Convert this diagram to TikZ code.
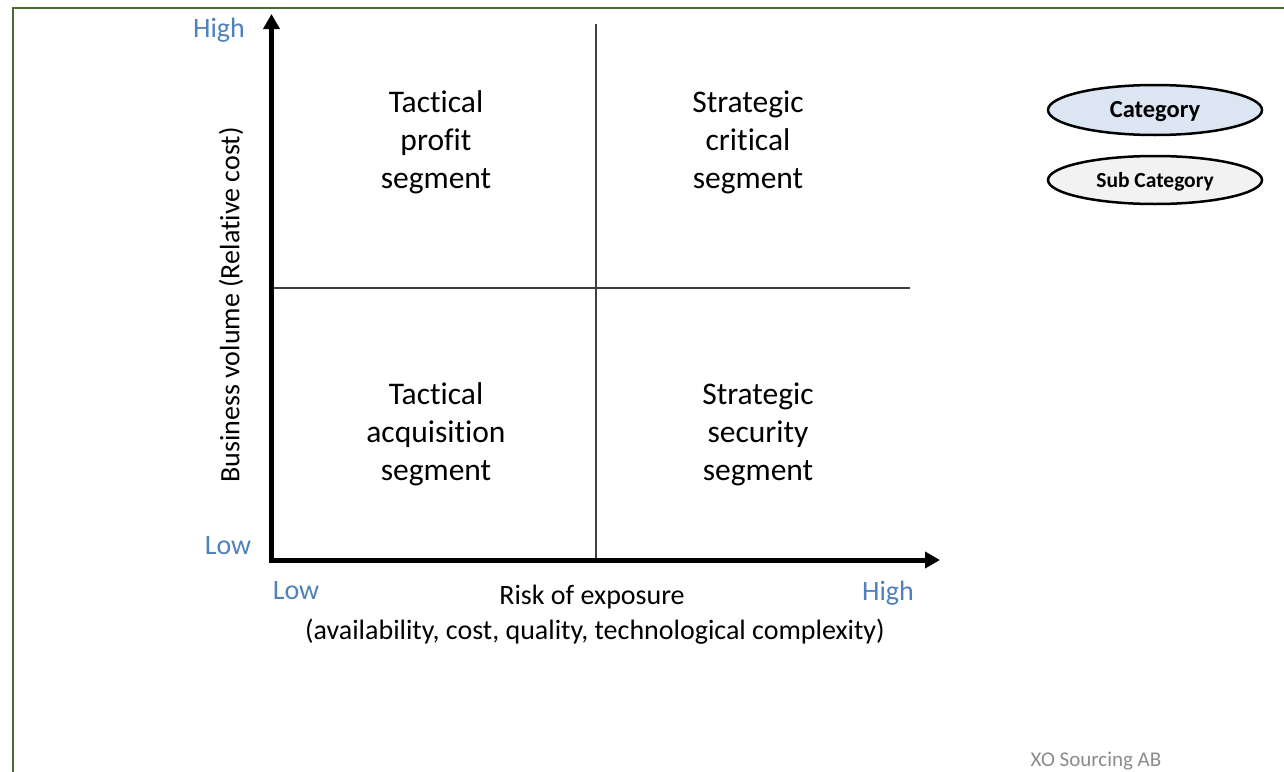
\documentclass[tikz,border=0pt]{standalone}
\usepackage{fontspec}
\setmainfont{Carlito}[Ligatures=CommonOff]
\usetikzlibrary{arrows.meta,shapes.geometric}
\definecolor{frameGreen}{HTML}{4A6A2E}
\definecolor{lowHigh}{HTML}{4F81BD}
\definecolor{gridGray}{HTML}{404040}
\definecolor{catFill}{HTML}{DCE6F2}
\definecolor{subFill}{HTML}{F2F2F2}
\definecolor{footGray}{HTML}{8C8C8C}
\tikzset{
  axisline/.style={line width=5pt,-{Triangle[length=15pt,width=16pt]}},
  gridline/.style={draw=gridGray,line width=1.5pt},
  quad/.style={align=center,font=\fontsize{31.5}{38}\selectfont,inner sep=0pt},
  lohi/.style={text=lowHigh,font=\fontsize{28}{33}\selectfont,inner sep=0pt},
  axtitle/.style={font=\fontsize{28}{33}\selectfont,inner sep=0pt},
  legend/.style={ellipse,draw=black,line width=2.5pt,minimum width=214pt,minimum height=49pt,inner sep=0pt,font=\bfseries},
}
\begin{document}
\begin{tikzpicture}[x=1pt,y=-1pt]
\useasboundingbox (0,0) rectangle (1284,771);
\fill[white] (0,0) rectangle (1284,771);
% frame
\draw[frameGreen,line width=2.5pt] (13,790) -- (13,8) -- (1300,8);
% grid
\coordinate (vt) at (596,24);
\coordinate (vb) at (596,560);
\coordinate (hl) at (272,288);
\coordinate (hr) at (910,288);
\draw[gridline] (vt) -- (vb);
\draw[gridline] (hl) -- (hr);
% axes
\coordinate (o) at (271.5,562.5);
\coordinate (ytop) at (271.5,14);
\coordinate (ox) at (269,560);
\coordinate (xend) at (940,560);
\draw[axisline] (o) -- (ytop);
\draw[axisline] (ox) -- (xend);
% low/high labels
\node[lohi] (yhigh) at (219,30) {High};
\node[lohi] (ylow) at (228,546) {Low};
\node[lohi] (xlow) at (296,591) {Low};
\node[lohi] (xhigh) at (888,593) {High};
% axis titles
\node[axtitle] (xt1) at (592,597) {Risk of exposure};
\node[axtitle] (xt2) at (595,632) {(availability, cost, quality, technological complexity)};
\node[axtitle,rotate=90] (yt) at (231,305) {Business volume (Relative cost)};
% quadrants
\node[quad] (tl) at (436,142) {Tactical\\profit\\segment};
\node[quad] (tr) at (748,142) {Strategic\\critical\\segment};
\node[quad] (bl) at (436,434) {Tactical\\acquisition\\segment};
\node[quad] (br) at (758,434) {Strategic\\security\\segment};
% legend
\node[legend,fill=catFill,minimum height=50pt] (cat) at (1155,110) {};
\node[font=\bfseries\fontsize{24.5}{28}\selectfont,inner sep=0pt] (catt) at (1155,112) {Category};
\node[legend,fill=subFill,minimum height=48pt] (sub) at (1155,180) {};
\node[font=\bfseries\fontsize{21.5}{25}\selectfont,inner sep=0pt] (subt) at (1155,182) {Sub Category};
% footer
\node[text=footGray,font=\fontsize{21}{25}\selectfont,inner sep=0pt] (foot) at (1096,761) {XO Sourcing AB};
\end{tikzpicture}
\end{document}
